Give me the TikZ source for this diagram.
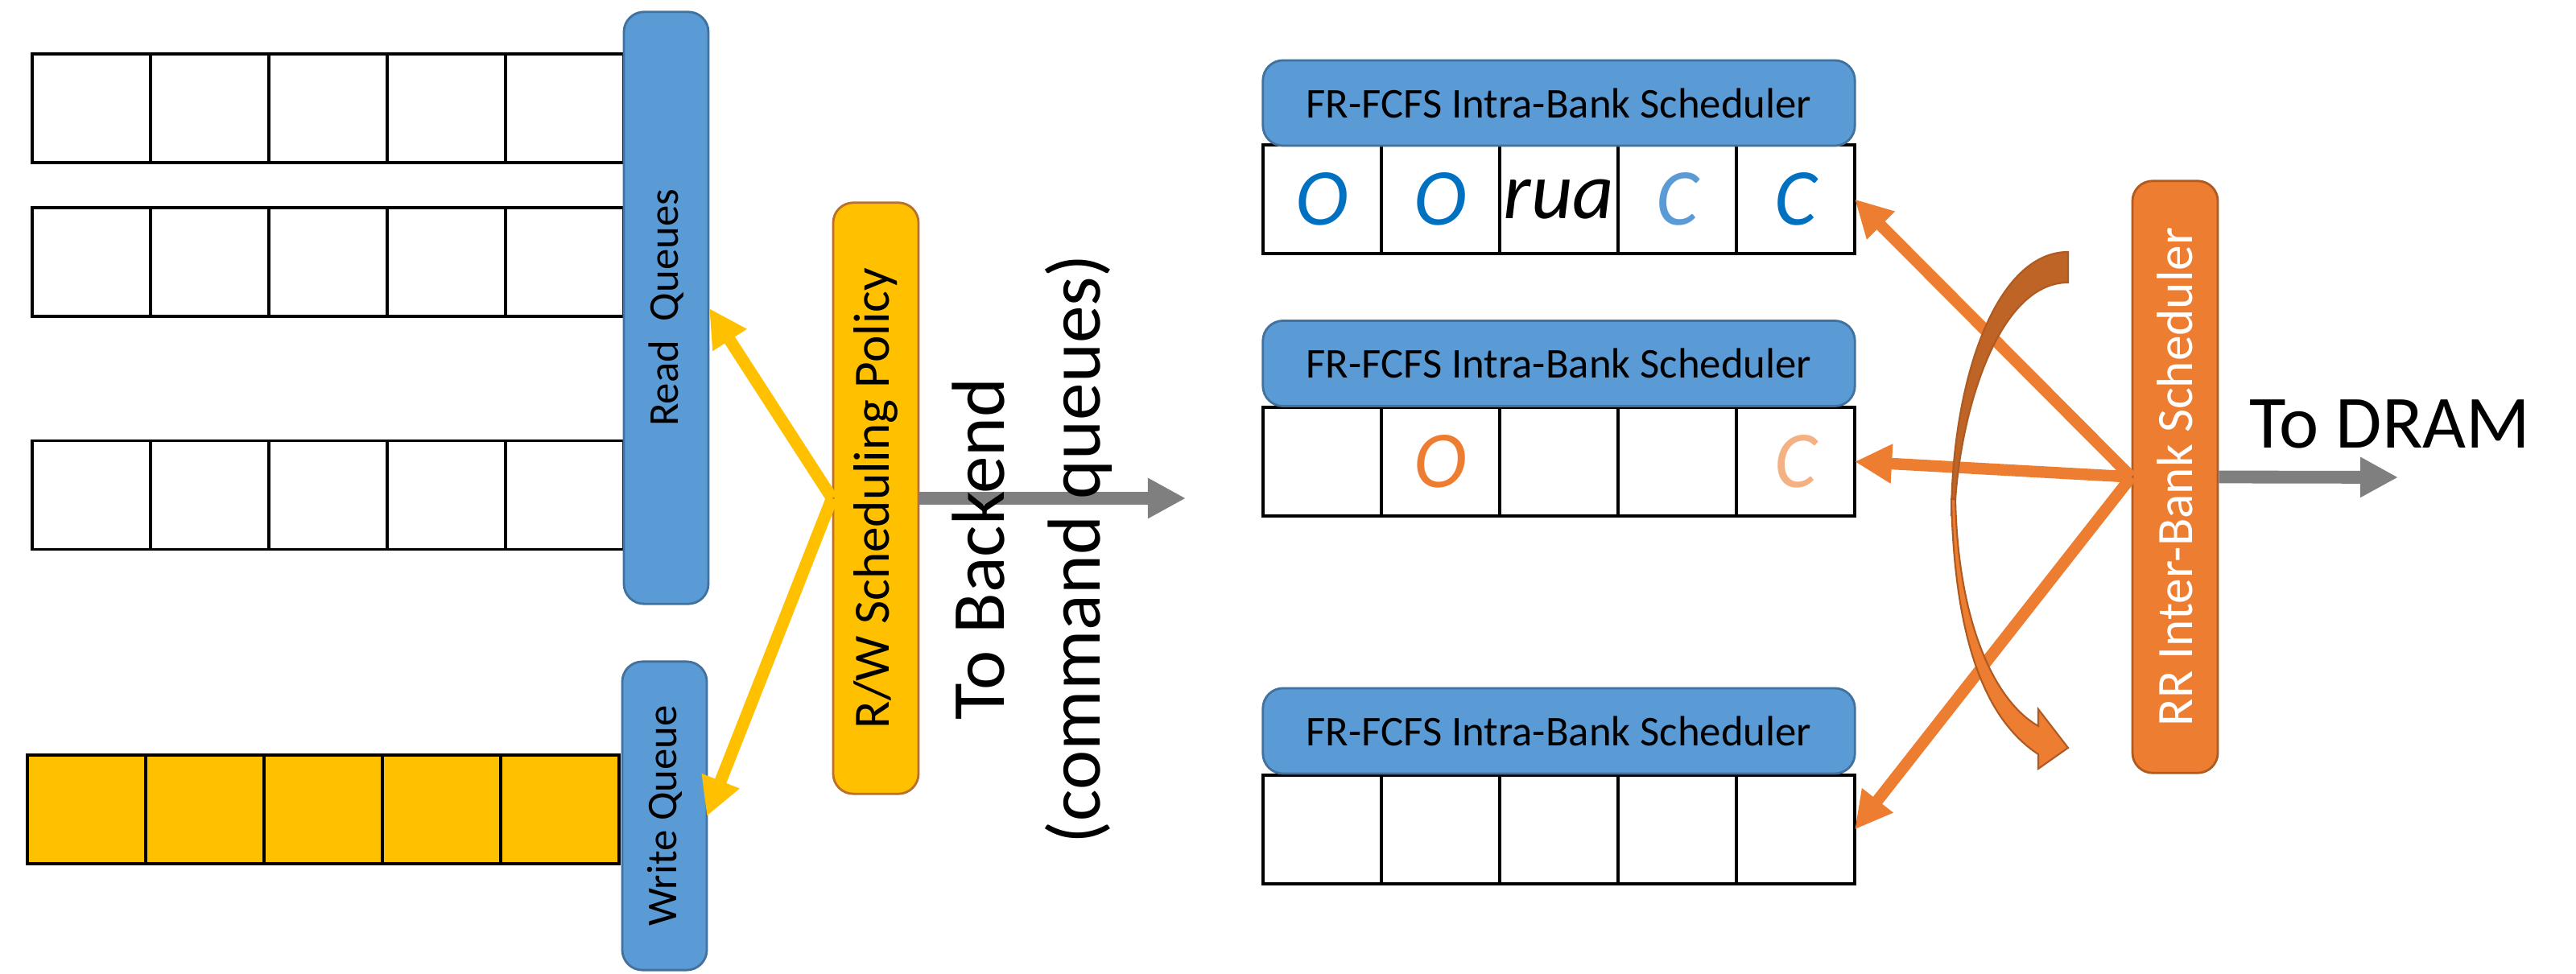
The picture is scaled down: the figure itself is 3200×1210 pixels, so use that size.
\documentclass[tikz,border=0pt]{standalone}
\usepackage{fontspec}
\setmainfont{Carlito}
\usepackage{graphicx}
\usetikzlibrary{arrows.meta}

\definecolor{boxblue}{HTML}{5B9BD5}
\definecolor{boxblueedge}{HTML}{41719C}
\definecolor{amber}{HTML}{FFC000}
\definecolor{amberedge}{HTML}{B8702C}
\definecolor{rrorange}{HTML}{ED7D31}
\definecolor{rredge}{HTML}{AE5A21}
\definecolor{darkcurve}{HTML}{BE6426}
\definecolor{arrowgray}{HTML}{7F7F7F}
\definecolor{deepblue}{HTML}{0070C0}
\definecolor{lightorange}{HTML}{F4B183}

\begin{document}
\begin{tikzpicture}[x=0.01cm, y=-0.01cm,
  cell/.style={draw=black, line width=0.9pt, minimum width=1.47cm,
    minimum height=1.35cm, inner sep=0pt, outer sep=0pt},
  wcell/.style={cell, fill=amber},
  header/.style={draw=boxblueedge, fill=boxblue, line width=0.8pt,
    rounded corners=0.25cm, minimum width=7.35cm, minimum height=1.06cm,
    inner sep=0pt, font=\fontsize{15}{18}\selectfont},
  bluebar/.style={draw=boxblueedge, fill=boxblue, line width=0.8pt,
    rounded corners=0.25cm, minimum width=1.05cm, inner sep=0pt,
    font=\fontsize{15}{18}\selectfont},
  rwbar/.style={draw=amberedge, fill=amber, line width=0.8pt,
    rounded corners=0.25cm, minimum width=1.06cm, inner sep=0pt,
    font=\fontsize{18}{21}\selectfont},
  rrbar/.style={draw=rredge, fill=rrorange, line width=0.8pt,
    rounded corners=0.25cm, minimum width=1.06cm, inner sep=0pt,
    text=white, font=\fontsize{18}{21}\selectfont},
  yarrow/.style={draw=amber, line width=4.3pt,
    -{Triangle[length=0.47cm, width=0.47cm]}},
  oarrow/.style={draw=rrorange, line width=4.1pt,
    -{Triangle[length=0.46cm, width=0.46cm]}},
  garrow/.style={draw=arrowgray, line width=4.5pt,
    -{Triangle[length=0.47cm, width=0.47cm]}},
  cmdmark/.style={font=\fontsize{28.5}{31}\selectfont\itshape},
  biglabel/.style={font=\fontsize{26.5}{34}\selectfont}
]
\useasboundingbox (0,0) rectangle (3200,1210);

% read queues (three rows of five slots)
\foreach \r/\y in {1/134.5, 2/325.5, 3/615} {
  \foreach \c in {1,...,5} {
    \node[cell] (q\r c\c) at ({40+73.5+147*(\c-1)}, \y) {};
  }
}
% write queue
\foreach \c in {1,...,5} {
  \node[wcell] (w\c) at ({34+73.5+147*(\c-1)}, 1005.5) {};
}

% per-bank command queues and their schedulers
\foreach \b/\y/\h in {1/247.5/128, 2/573.5/451.5, 3/1030.5/908} {
  \foreach \c in {1,...,5} {
    \node[cell] (b\b c\c) at ({1642.5+147*(\c-1)}, \y) {};
  }
  \node[header] (hdr\b) at (1936.5, \h) {FR-FCFS Intra-Bank Scheduler};
}

% queued commands
\node[cmdmark, text=deepblue] (m1) at (b1c1) {O};
\node[cmdmark, text=deepblue] (m2) at (b1c2) {O};
\node[cmdmark, text=black] (m3) at (b1c3) {rua};
\node[cmdmark, text=boxblue] (m4) at (b1c4) {C};
\node[cmdmark, text=deepblue] (m5) at (b1c5) {C};
\node[cmdmark, text=rrorange] (m6) at (b2c2) {O};
\node[cmdmark, text=lightorange] (m7) at (b2c5) {C};

% vertical bars
\node[bluebar, minimum height=7.35cm] (rq) at (827.5, 382.5) {\rotatebox{90}{Read\ \ Queues}};
\node[bluebar, minimum height=3.83cm] (wq) at (825.5, 1013.5) {\rotatebox{90}{Write Queue}};
\node[rwbar, minimum height=7.34cm] (rw) at (1088, 619) {\rotatebox{90}{R/W Scheduling Policy}};
\node[rrbar, minimum height=7.35cm] (rr) at (2702, 592.5) {\rotatebox{90}{RR Inter-Bank Scheduler}};

% end points
\coordinate (rqtip) at (881, 383);
\coordinate (wqtip) at (878, 1014);
\coordinate (backend) at (1473, 619);
\coordinate (dram) at (2979, 593);

% R/W policy picks from read or write queues
\draw[yarrow] (rw.west) -- (rqtip);
\draw[yarrow] (rw.west) -- (wqtip);

% outputs
\draw[garrow] (rw.east) -- (backend);
\draw[garrow] (rr.east) -- (dram);

% labels, set over the output arrows
\node[biglabel, rotate=90, align=center, inner sep=0pt] (backendlbl) at (1282, 682)
  {To Backend\\(command queues)};
\node[biglabel, inner sep=0pt] (dramlbl) at (2969, 527) {To DRAM};

% inter-bank scheduler serves each bank
\draw[oarrow] (rr.west) -- (b1c5.east);
\draw[oarrow] (rr.west) -- (b2c5.east);
\draw[oarrow] (rr.west) -- (b3c5.east);

% round-robin rotation
\filldraw[fill=darkcurve, draw=rredge, line width=0.6pt]
  (2569,313) .. controls (2480,313) and (2425,470) .. (2424,640)
  -- (2428,640) .. controls (2432,520) and (2480,351) .. (2569,351) -- cycle;
\filldraw[fill=rrorange, draw=rredge, line width=0.6pt]
  (2424,620) .. controls (2428,800) and (2468,895) .. (2532,937)
  -- (2532,955) -- (2569,929) -- (2532,881) -- (2532,902)
  .. controls (2476,870) and (2432,770) .. (2429,620) -- cycle;
\end{tikzpicture}
\end{document}
